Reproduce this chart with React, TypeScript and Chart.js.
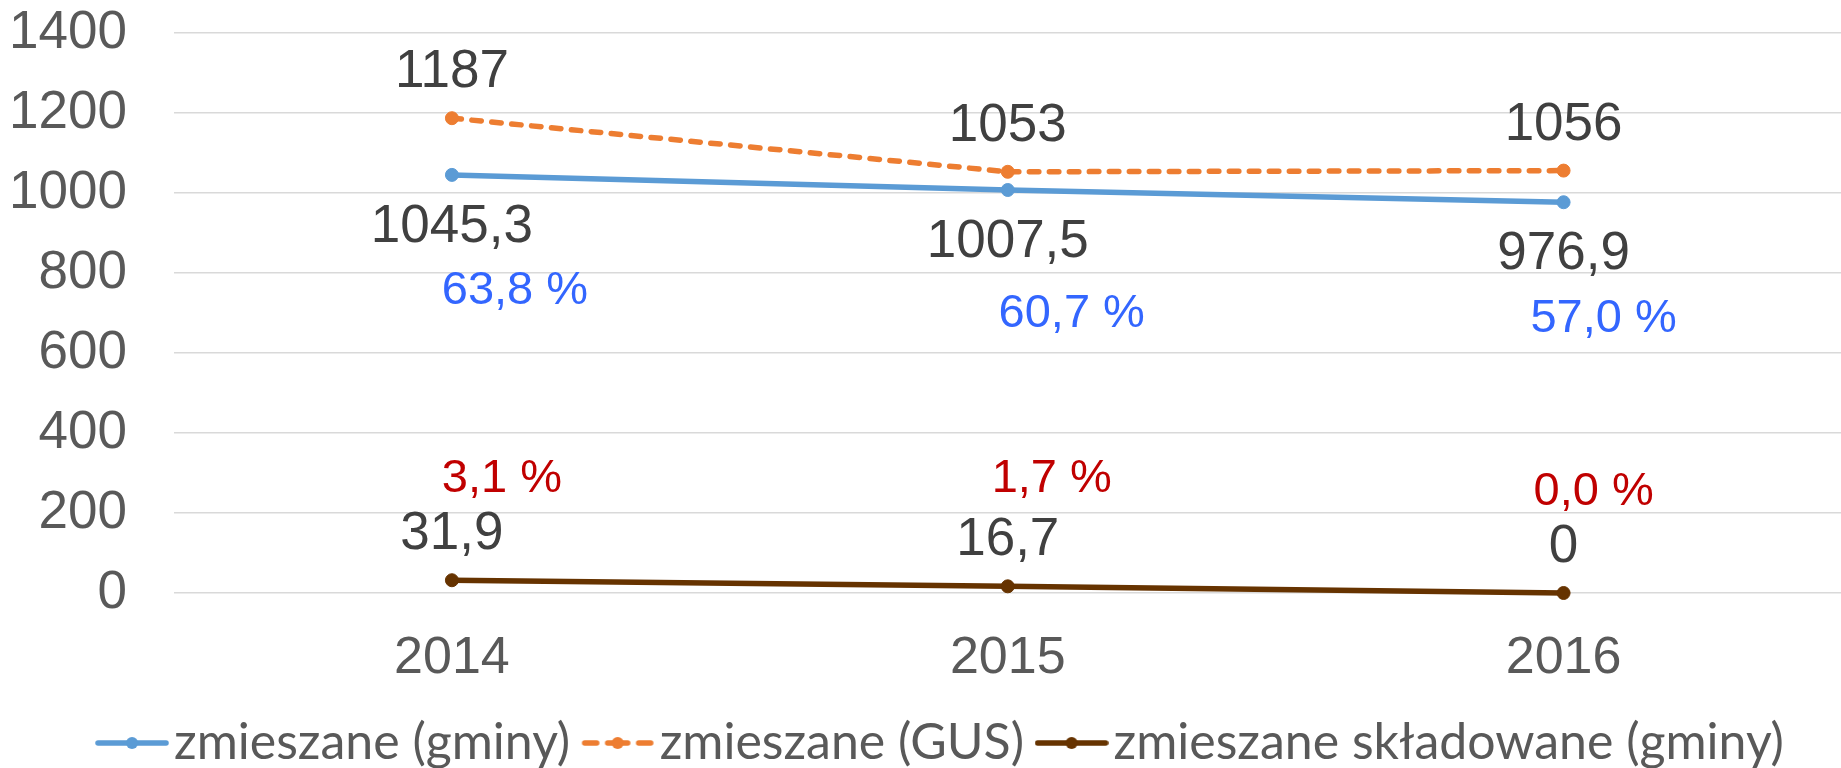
import React, { useEffect, useRef } from 'react';
import { Chart, registerables } from 'chart.js';

Chart.register(...registerables);

// ---- data ----
const categories = ['2014', '2015', '2016'];
const seriesNames = ['zmieszane (gminy)', 'zmieszane (GUS)', 'zmieszane składowane (gminy)'];
const gminyValues = [1045.3, 1007.5, 976.9];
const gusValues = [1187, 1053, 1056];
const skladowaneValues = [31.9, 16.7, 0];
const gminyShare = ['63,8 %', '60,7 %', '57,0 %'];
const skladowaneShare = ['3,1 %', '1,7 %', '0,0 %'];
const yMin = 0;
const yMax = 1400;
const yStep = 200;

// ---- styles ----
const FONT = '"Liberation Sans", Arial, sans-serif';
const LEGEND_FONT = 'Lato, "Open Sans", sans-serif';
const BLUE = '#5B9BD5';
const ORANGE = '#ED7D31';
const BROWN = '#663300';
const AXIS_TEXT = '#595959';
const LABEL_TEXT = '#404040';
const SHARE_BLUE = '#3366FF';
const SHARE_RED = '#C00000';

const CANVAS_W = 1849;
const CANVAS_H = 778;
const LEGEND_FS = 50;
const LEGEND_BOX = 34;
const LEGEND_PAD = 30.5;
const LEGEND_SHIFT = 50;
const PLOT_TOP = 33;
const PLOT_LEFT = 174;
const PLOT_BOTTOM = 593;
const LEGEND_H = LEGEND_FS + LEGEND_PAD + 10;
const TEXT_NUDGE = 2.5; // canvas 'middle' baseline sits slightly above the digit centre

// pixel offsets of the share annotations relative to their points
const gminyShareOffsets = [[63, 114], [64, 122], [40, 114]];
const skladShareOffsets = [[50, -104], [44, -110], [30, -103]];

const fmt = (v: number) => String(v).replace('.', ',');

function makeMarker(color: string, dashed: boolean): HTMLCanvasElement {
  const c = document.createElement('canvas');
  c.width = 74;
  c.height = 16;
  const g = c.getContext('2d')!;
  g.strokeStyle = color;
  g.fillStyle = color;
  g.lineWidth = 5.5;
  g.lineCap = 'round';
  const seg = (a: number, b: number) => {
    g.beginPath();
    g.moveTo(a, 8);
    g.lineTo(b, 8);
    g.stroke();
  };
  if (dashed) {
    seg(4, 16);
    seg(27, 47);
    seg(58, 70);
  } else {
    seg(3, 71);
  }
  g.beginPath();
  g.arc(37, 8, 6, 0, Math.PI * 2);
  g.fill();
  return c;
}

const legendShiftPlugin = {
  id: 'legendShift',
  afterLayout(chart: any) {
    const lg = chart.legend;
    if (lg) {
      lg.left += LEGEND_SHIFT / 2;
      lg.right += LEGEND_SHIFT / 2;
    }
  },
};

const labelPlugin = {
  id: 'valueLabels',
  afterDatasetsDraw(chart: any) {
    const ctx = chart.ctx as CanvasRenderingContext2D;
    ctx.save();
    ctx.textAlign = 'center';
    ctx.textBaseline = 'middle';
    chart.data.datasets.forEach((ds: any, di: number) => {
      const meta = chart.getDatasetMeta(di);
      const dy = (di === 0 ? 50 : -48) + TEXT_NUDGE;
      ctx.font = `53px ${FONT}`;
      ctx.fillStyle = LABEL_TEXT;
      meta.data.forEach((pt: any, i: number) => {
        ctx.fillText(fmt(ds.data[i]), pt.x, pt.y + dy);
      });
    });
    ctx.font = `47px ${FONT}`;
    const m0 = chart.getDatasetMeta(0);
    ctx.fillStyle = SHARE_BLUE;
    m0.data.forEach((pt: any, i: number) => {
      ctx.fillText(gminyShare[i], pt.x + gminyShareOffsets[i][0], pt.y + gminyShareOffsets[i][1] + TEXT_NUDGE);
    });
    const m2 = chart.getDatasetMeta(2);
    ctx.fillStyle = SHARE_RED;
    m2.data.forEach((pt: any, i: number) => {
      ctx.fillText(skladowaneShare[i], pt.x + skladShareOffsets[i][0], pt.y + skladShareOffsets[i][1] + TEXT_NUDGE);
    });
    ctx.restore();
  },
};

export default function App() {
  const ref = useRef<HTMLCanvasElement | null>(null);

  useEffect(() => {
    if (!ref.current) return;
    const markers = [makeMarker(BLUE, false), makeMarker(ORANGE, true), makeMarker(BROWN, false)];
    const lineDs = (label: string, data: number[], color: string, extra: any = {}) => ({
      label,
      data,
      borderColor: color,
      backgroundColor: color,
      borderWidth: 5.5,
      pointRadius: 6.5,
      pointHoverRadius: 6.5,
      pointBackgroundColor: color,
      pointBorderColor: color,
      pointBorderWidth: 1,
      tension: 0,
      fill: false,
      clip: false,
      ...extra,
    });
    const chart = new Chart(ref.current, {
      type: 'line',
      data: {
        labels: categories,
        datasets: [
          lineDs(seriesNames[0], gminyValues, BLUE),
          lineDs(seriesNames[1], gusValues, ORANGE, { borderDash: [9.5, 10.5], borderCapStyle: 'round' }),
          lineDs(seriesNames[2], skladowaneValues, BROWN),
        ],
      },
      options: {
        animation: false,
        responsive: true,
        maintainAspectRatio: false,
        layout: { padding: { left: 0, top: PLOT_TOP, right: 0, bottom: 0 } },
        plugins: {
          tooltip: { enabled: false },
          legend: {
            display: true,
            position: 'bottom',
            labels: {
              usePointStyle: true,
              pointStyleWidth: LEGEND_BOX,
              padding: LEGEND_PAD,
              color: AXIS_TEXT,
              font: { family: LEGEND_FONT, size: LEGEND_FS },
              generateLabels: (c: any) => {
                const items = (Chart.defaults.plugins.legend.labels as any).generateLabels(c);
                items.forEach((it: any, i: number) => {
                  it.pointStyle = markers[i];
                  it.fontColor = AXIS_TEXT;
                });
                return items;
              },
            },
          },
        },
        scales: {
          x: {
            type: 'category',
            offset: true,
            grid: { display: false, drawTicks: false },
            border: { display: false },
            ticks: { color: AXIS_TEXT, font: { family: FONT, size: 52 }, padding: 32 + TEXT_NUDGE },
            afterFit: (s: any) => {
              s.height = CANVAS_H - LEGEND_H - PLOT_BOTTOM;
              s.paddingLeft = 0;
              s.paddingRight = 0;
            },
          },
          y: {
            min: yMin,
            max: yMax,
            grid: { color: '#D9D9D9', lineWidth: 1.5, drawTicks: false },
            border: { display: false },
            ticks: {
              stepSize: yStep,
              color: AXIS_TEXT,
              font: { family: FONT, size: 53 },
              padding: 47,
              callback: (v: any) => String(v),
            },
            afterFit: (s: any) => {
              s.width = PLOT_LEFT;
              s.paddingTop = 0;
              s.paddingBottom = 0;
            },
          },
        },
      } as any,
      plugins: [labelPlugin, legendShiftPlugin],
    });
    return () => chart.destroy();
  }, []);

  return (
    <div style={{ position: 'fixed', left: 0, top: 0, width: 1841, height: 768, overflow: 'hidden', background: '#fff' }}>
      <div style={{ position: 'relative', width: CANVAS_W, height: CANVAS_H }}>
        <canvas ref={ref} />
      </div>
    </div>
  );
}
